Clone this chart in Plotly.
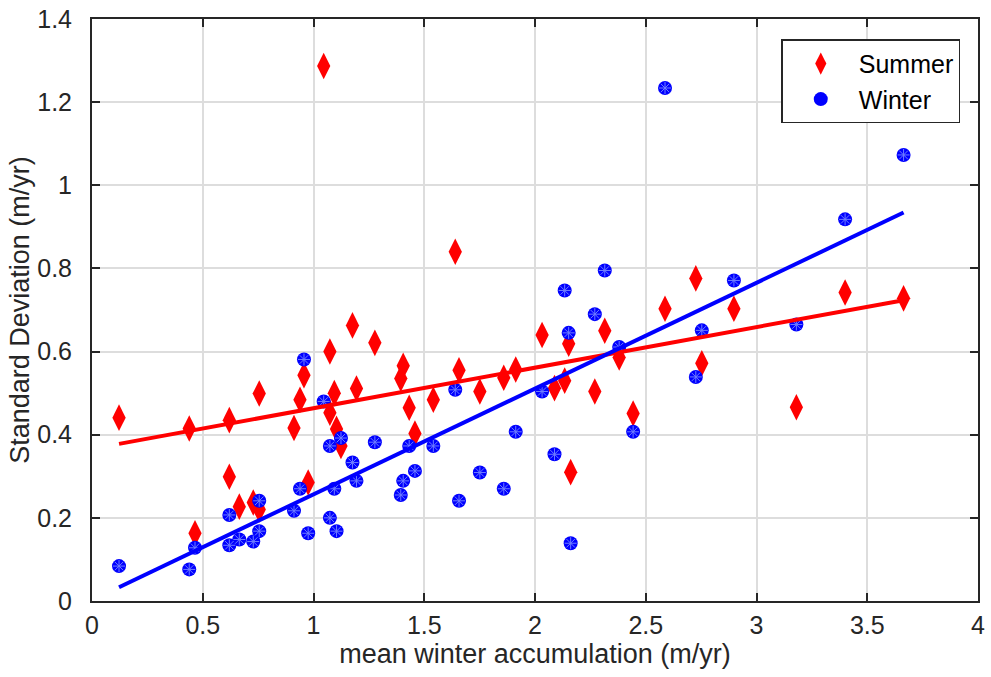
import numpy as np
import plotly.graph_objects as go

# mean winter accumulation (m/yr), one per glacier
accum = [0.122, 0.439, 0.465, 0.620, 0.620, 0.665, 0.728, 0.755, 0.755, 0.912,
         0.939, 0.957, 0.976, 1.046, 1.074, 1.074, 1.094, 1.104, 1.124, 1.176,
         1.194, 1.277, 1.394, 1.405, 1.432, 1.458, 1.541, 1.640, 1.657, 1.751,
         1.859, 1.913, 2.032, 2.088, 2.134, 2.152, 2.161, 2.270, 2.315, 2.380,
         2.443, 2.587, 2.726, 2.753, 2.898, 3.180, 3.400, 3.664]

# standard deviation of summer balance (m/yr)
summer_sd = [0.441, 0.415, 0.163, 0.435, 0.299, 0.227, 0.237, 0.499, 0.220, 0.416,
             0.484, 0.543, 0.285, 1.287, 0.600, 0.453, 0.500, 0.414, 0.373, 0.663,
             0.511, 0.621, 0.535, 0.566, 0.465, 0.403, 0.484, 0.840, 0.555, 0.504,
             0.537, 0.557, 0.640, 0.512, 0.530, 0.619, 0.310, 0.504, 0.650, 0.586,
             0.451, 0.703, 0.776, 0.572, 0.703, 0.466, 0.742, 0.728]

# standard deviation of winter balance (m/yr)
winter_sd = [0.084, 0.076, 0.128, 0.207, 0.134, 0.148, 0.143, 0.241, 0.168, 0.217,
             0.270, 0.581, 0.163, 0.480, 0.373, 0.200, 0.270, 0.168, 0.392, 0.333,
             0.289, 0.382, 0.255, 0.289, 0.373, 0.313, 0.373, 0.508, 0.241, 0.309,
             0.270, 0.407, 0.504, 0.353, 0.747, 0.645, 0.139, 0.690, 0.795, 0.611,
             0.407, 1.234, 0.539, 0.651, 0.771, 0.665, 0.918, 1.073]

x_ticks = [0, 0.5, 1, 1.5, 2, 2.5, 3, 3.5, 4]
y_ticks = [0, 0.2, 0.4, 0.6, 0.8, 1.0, 1.2, 1.4]

x = np.array(accum)
xf = np.array([x.min(), x.max()])
ps = np.polyfit(x, np.array(summer_sd), 1)
pw = np.polyfit(x, np.array(winter_sd), 1)

RED = "#ff0000"
BLUE = "#0000ff"
STAR = "#6f7dff"

fig = go.Figure()
fig.add_trace(go.Scatter(x=accum, y=summer_sd, mode="markers", name="Summer",
                         marker=dict(symbol="diamond-tall", size=19, color=RED,
                                     line=dict(width=0))))
fig.add_trace(go.Scatter(x=accum, y=winter_sd, mode="markers", name="Winter",
                         marker=dict(symbol="circle", size=14, color=BLUE,
                                     line=dict(width=0))))
fig.add_trace(go.Scatter(x=accum, y=winter_sd, mode="markers", showlegend=False,
                         hoverinfo="skip",
                         marker=dict(symbol="asterisk-open", size=10, color=STAR,
                                     line=dict(width=1, color=STAR))))
fig.add_trace(go.Scatter(x=xf, y=np.polyval(ps, xf), mode="lines", showlegend=False,
                         line=dict(color=RED, width=4)))
fig.add_trace(go.Scatter(x=xf, y=np.polyval(pw, xf), mode="lines", showlegend=False,
                         line=dict(color=BLUE, width=4)))

axis_common = dict(
    showline=True, linecolor="#262626", linewidth=2, mirror="ticks",
    ticks="inside", ticklen=8, tickwidth=2, tickcolor="#262626",
    showgrid=True, gridcolor="#dddddd", gridwidth=2,
    zeroline=False, tickfont=dict(size=25, color="#262626"),
    automargin=False,
)

fig.update_layout(
    width=991, height=677,
    paper_bgcolor="white", plot_bgcolor="white",
    margin=dict(l=92, r=13, t=19, b=76),
    font=dict(family="Liberation Sans, Arial, sans-serif", color="#262626"),
    xaxis=dict(range=[0, 4], tickvals=x_ticks, ticklabelstandoff=1,
               title=dict(text="mean winter accumulation (m/yr)",
                          font=dict(size=27, color="#262626"), standoff=0),
               **axis_common),
    yaxis=dict(range=[0, 1.4], tickvals=y_ticks, ticklabelstandoff=13,
               title=dict(text="Standard Deviation (m/yr)",
                          font=dict(size=27, color="#262626"), standoff=0),
               **axis_common),
    legend=dict(x=0.98, y=0.965, xanchor="right", yanchor="top",
                bgcolor="white", bordercolor="#262626", borderwidth=1.5,
                font=dict(size=25, color="#000000"), itemsizing="trace",
                itemwidth=66, tracegroupgap=0),
    showlegend=True,
)

fig.write_html("out.html",
               config={"displayModeBar": False},
               post_script="document.body.style.margin='0';"
                           "document.body.style.overflow='hidden';")
